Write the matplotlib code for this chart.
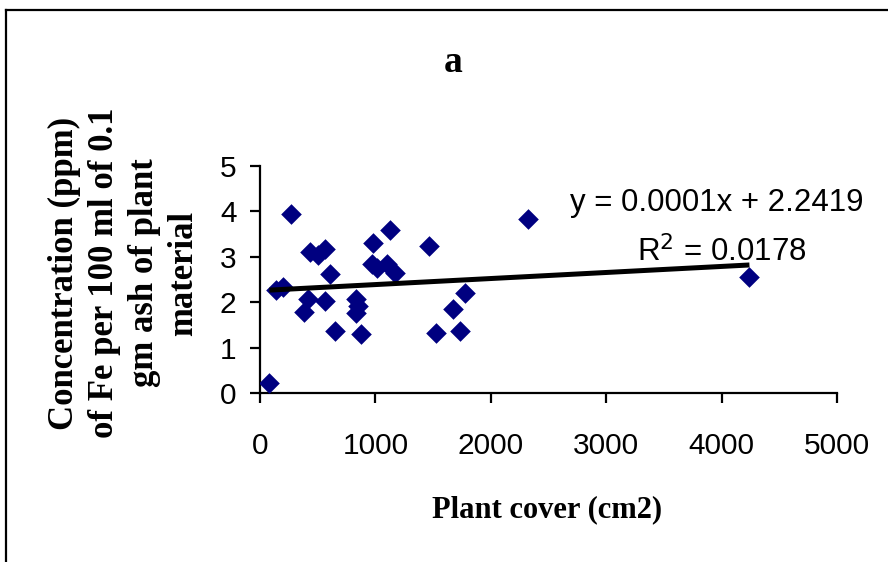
import numpy as np
import matplotlib
matplotlib.use("Agg")
import matplotlib.pyplot as plt
from matplotlib.lines import Line2D

# Plant cover (cm2) vs Fe concentration (ppm)
plant_cover = [81, 139, 203, 267, 377, 414, 435, 499, 559, 565, 603, 646,
               832, 846, 832, 875, 971, 980, 1014, 1101, 1125, 1168,
               1464, 1528, 1672, 1730, 1774, 2319, 4241]
fe_conc = [0.22, 2.26, 2.34, 3.94, 1.78, 2.06, 3.10, 3.04, 2.02, 3.17, 2.63, 1.37,
           2.06, 1.91, 1.76, 1.30, 2.84, 3.31, 2.75, 2.84, 3.58, 2.65,
           3.23, 1.32, 1.85, 1.37, 2.21, 3.83, 2.56]

x_ticks = [0, 1000, 2000, 3000, 4000, 5000]
y_ticks = [0, 1, 2, 3, 4, 5]
title = "a"
x_label = "Plant cover (cm2)"
y_label = "Concentration (ppm)\nof Fe per 100 ml of 0.1\ngm ash of plant\nmaterial"
eq_text = "y = 0.0001x + 2.2419"
r2_text = "R$^2$ = 0.0178"

serif = "Liberation Serif"
sans = "Liberation Sans"

fig = plt.figure(figsize=(8.88, 5.62), dpi=100)
ax = fig.add_axes([0.2928, 0.3007, 0.6498, 0.4039])

x = np.array(plant_cover)
y = np.array(fe_conc)
ax.scatter(x, y, marker="D", s=10.5**2, color="#000080", linewidths=0, zorder=3)

# linear trendline
k, c = np.polyfit(x, y, 1)
xx = np.array([x.min(), x.max()])
ax.plot(xx, k * xx + c, color="black", lw=3.6, zorder=4, solid_capstyle="butt")

ax.set_xlim(0, 5000)
ax.set_ylim(0, 5)
ax.set_xticks(x_ticks)
ax.set_yticks(y_ticks)
for s in ["top", "right"]:
    ax.spines[s].set_visible(False)
for s in ["left", "bottom"]:
    ax.spines[s].set_linewidth(1.6)
ax.tick_params(axis="both", direction="out", length=7, width=1.6)
ax.tick_params(axis="x", pad=21)
ax.tick_params(axis="y", pad=10)
for lab in ax.get_xticklabels() + ax.get_yticklabels():
    lab.set_fontfamily(sans)
    lab.set_fontsize(21.5)

fig.text(570 / 888, 1 - 203 / 562, eq_text, fontsize=22.5, family=sans, va="center", ha="left")
fig.text(637 / 888, 1 - 252 / 562, r2_text, fontsize=22.5, family=sans, va="center", ha="left")

fig.text(453 / 888, 1 - 63 / 562, title, fontsize=27, family=serif, weight="bold",
         ha="center", va="center")
fig.text(547 / 888, 1 - 510 / 562, x_label, fontsize=22, family=serif, weight="bold",
         ha="center", va="center")
fig.text(124 / 888, 1 - 273 / 562, y_label, fontsize=25, family=serif, weight="bold",
         ha="center", va="center", rotation=90, linespacing=1.28, multialignment="center")

# outer frame (top and left edges only)
fig.add_artist(Line2D([6 / 888, 1], [1 - 10 / 562, 1 - 10 / 562], color="black", lw=1.6))
fig.add_artist(Line2D([6 / 888, 6 / 888], [0, 1 - 10 / 562], color="black", lw=1.6))

fig.savefig("out.png", dpi=100)
